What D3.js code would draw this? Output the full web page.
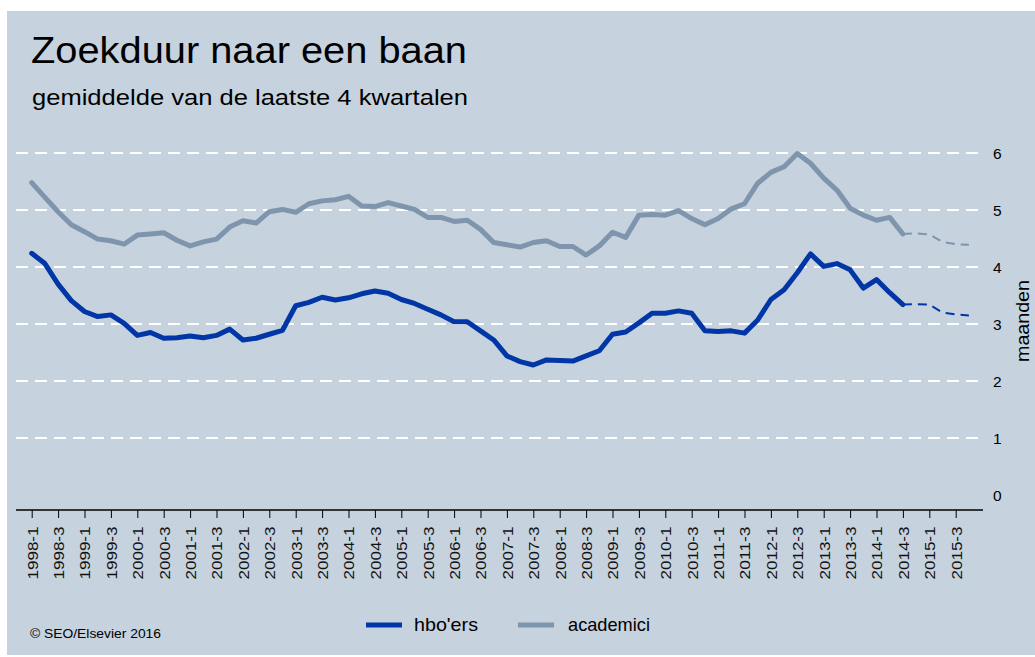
<!DOCTYPE html>
<html>
<head>
<meta charset="utf-8">
<script src="https://cdn.jsdelivr.net/npm/d3@7"></script>
<style>
  body { margin: 0; background: #fff; }
  svg { display: block; font-family: "Liberation Sans", Arial, sans-serif; }
</style>
</head>
<body>
<svg id="chart" width="1035" height="657"></svg>
<script>
// kwartalen 1998-1 t/m 2015-4
const years = d3.range(1998, 2016)
const quarters = years.flatMap(y => [1, 2, 3, 4].map(q => `${y}-${q}`))

// gemiddelde zoekduur in maanden (laatste 4 kwartalen)
const hbo = [
  4.24, 4.06, 3.70, 3.41, 3.22, 3.13, 3.16, 3.01, 2.80, 2.85, 2.75, 2.76,
  2.79, 2.76, 2.80, 2.91, 2.72, 2.75, 2.82, 2.89, 3.32, 3.38, 3.47, 3.42,
  3.46, 3.53, 3.58, 3.54, 3.43, 3.36, 3.26, 3.16, 3.04, 3.04, 2.88, 2.72,
  2.44, 2.34, 2.28, 2.37, 2.36, 2.35, 2.44, 2.53, 2.82, 2.86, 3.02, 3.19,
  3.19, 3.23, 3.19, 2.88, 2.87, 2.88, 2.84, 3.07, 3.43, 3.60, 3.90, 4.23,
  4.01, 4.06, 3.95, 3.63, 3.78, 3.55, 3.34, 3.35, 3.34, 3.20, 3.17, 3.15
]
const academici = [
  5.48, 5.22, 4.97, 4.74, 4.62, 4.49, 4.46, 4.40, 4.56, 4.58, 4.60, 4.47,
  4.37, 4.44, 4.49, 4.70, 4.81, 4.77, 4.97, 5.01, 4.96, 5.11, 5.16, 5.18,
  5.24, 5.07, 5.06, 5.13, 5.07, 5.01, 4.87, 4.87, 4.80, 4.82, 4.66, 4.43,
  4.39, 4.35, 4.43, 4.46, 4.36, 4.36, 4.21, 4.37, 4.61, 4.52, 4.91, 4.92,
  4.91, 4.99, 4.85, 4.74, 4.85, 5.02, 5.11, 5.47, 5.66, 5.76, 5.99, 5.82,
  5.56, 5.35, 5.03, 4.91, 4.82, 4.87, 4.58, 4.59, 4.57, 4.44, 4.40, 4.39
]
const lastActual = "2014-3"  // daarna prognose (gestippeld)
const tickLabels = quarters.filter((d, i) => i % 2 === 0)
const yTicks = [0, 1, 2, 3, 4, 5, 6]

const series = [
  {name: "hbo'ers", values: hbo, color: "#0036a6", len: 64},
  {name: "academici", values: academici, color: "#7e95ad", len: 82}
]

const svg = d3.select("#chart")

svg.append("rect")
    .attr("x", 7).attr("y", 11)
    .attr("width", 1028).attr("height", 644)
    .attr("fill", "#c6d2de")

const axisLeft = 16, axisRight = 983
const x = d3.scalePoint()
    .domain(quarters)
    .range([31.7, 968.9])
const y = d3.scaleLinear()
    .domain([0, 6])
    .range([495, 153])

// titels (bron-font is iets breder dan Arial, vandaar textLength)
svg.append("text")
    .attr("x", 31).attr("y", 63)
    .attr("font-size", 36.5)
    .attr("textLength", 436)
    .attr("lengthAdjust", "spacingAndGlyphs")
    .text("Zoekduur naar een baan")
svg.append("text")
    .attr("x", 32).attr("y", 105)
    .attr("font-size", 22)
    .attr("textLength", 436)
    .attr("lengthAdjust", "spacingAndGlyphs")
    .text("gemiddelde van de laatste 4 kwartalen")

// grid
svg.append("g")
  .selectAll("line")
  .data(yTicks.filter(d => d > 0))
  .join("line")
    .attr("x1", axisLeft).attr("x2", axisRight)
    .attr("y1", d => y(d)).attr("y2", d => y(d))
    .attr("stroke", "#fff")
    .attr("stroke-width", 2)
    .attr("stroke-dasharray", "12,7")

// y labels rechts
svg.append("g")
  .selectAll("text")
  .data(yTicks)
  .join("text")
    .attr("x", 993)
    .attr("y", d => y(d))
    .attr("dy", "0.36em")
    .attr("font-size", 15.5)
    .text(d => d)

svg.append("text")
    .attr("transform", `translate(1029,${y(3) - 3}) rotate(-90)`)
    .attr("text-anchor", "middle")
    .attr("font-size", 19)
    .attr("textLength", 82)
    .attr("lengthAdjust", "spacingAndGlyphs")
    .text("maanden")

// x-as
const xAxis = svg.append("g")
    .attr("transform", "translate(0,510)")
    .call(d3.axisBottom(x).tickValues(tickLabels).tickSize(8).tickSizeOuter(0))
xAxis.select(".domain").remove()
xAxis.append("line")
    .attr("x1", axisLeft).attr("x2", axisRight)
    .attr("stroke", "#000").attr("stroke-width", 1.5)
xAxis.selectAll(".tick line").attr("stroke", "#000")
xAxis.selectAll(".tick text")
    .attr("font-family", "Liberation Sans, Arial, sans-serif")
    .attr("font-size", 15)
    .attr("fill", "#111")
    .attr("transform", "rotate(-90)")
    .attr("text-anchor", "end")
    .attr("textLength", 53)
    .attr("lengthAdjust", "spacingAndGlyphs")
    .attr("x", -16.5)
    .attr("y", 0)
    .attr("dy", "0.36em")

// lijnen
const line = d3.line()
    .x(d => x(d.q))
    .y(d => y(d.v))
const cut = quarters.indexOf(lastActual)

series.forEach(s => {
  const pts = s.values.map((v, i) => ({q: quarters[i], v}))
  svg.append("path")
      .datum(pts.slice(0, cut + 1))
      .attr("fill", "none")
      .attr("stroke", s.color)
      .attr("stroke-width", 5)
      .attr("stroke-linejoin", "round")
      .attr("stroke-linecap", "round")
      .attr("d", line)
  svg.append("path")
      .datum(pts.slice(cut))
      .attr("fill", "none")
      .attr("stroke", s.color)
      .attr("stroke-width", 2)
      .attr("stroke-dasharray", "9,6")
      .attr("d", line)
})

// legenda
const legend = svg.append("g").attr("transform", "translate(366,625)")
series.forEach((s, i) => {
  const g = legend.append("g").attr("transform", `translate(${i * 152},0)`)
  g.append("line")
      .attr("x1", 0).attr("x2", 36)
      .attr("stroke", s.color).attr("stroke-width", 5)
  g.append("text")
      .attr("x", i === 0 ? 48 : 50).attr("dy", "0.35em")
      .attr("font-size", 18.5)
      .attr("textLength", s.len)
      .attr("lengthAdjust", "spacingAndGlyphs")
      .text(s.name)
})

svg.append("text")
    .attr("x", 30).attr("y", 638)
    .attr("font-size", 13)
    .attr("textLength", 131)
    .attr("lengthAdjust", "spacingAndGlyphs")
    .text("© SEO/Elsevier 2016")
</script>
</body>
</html>
